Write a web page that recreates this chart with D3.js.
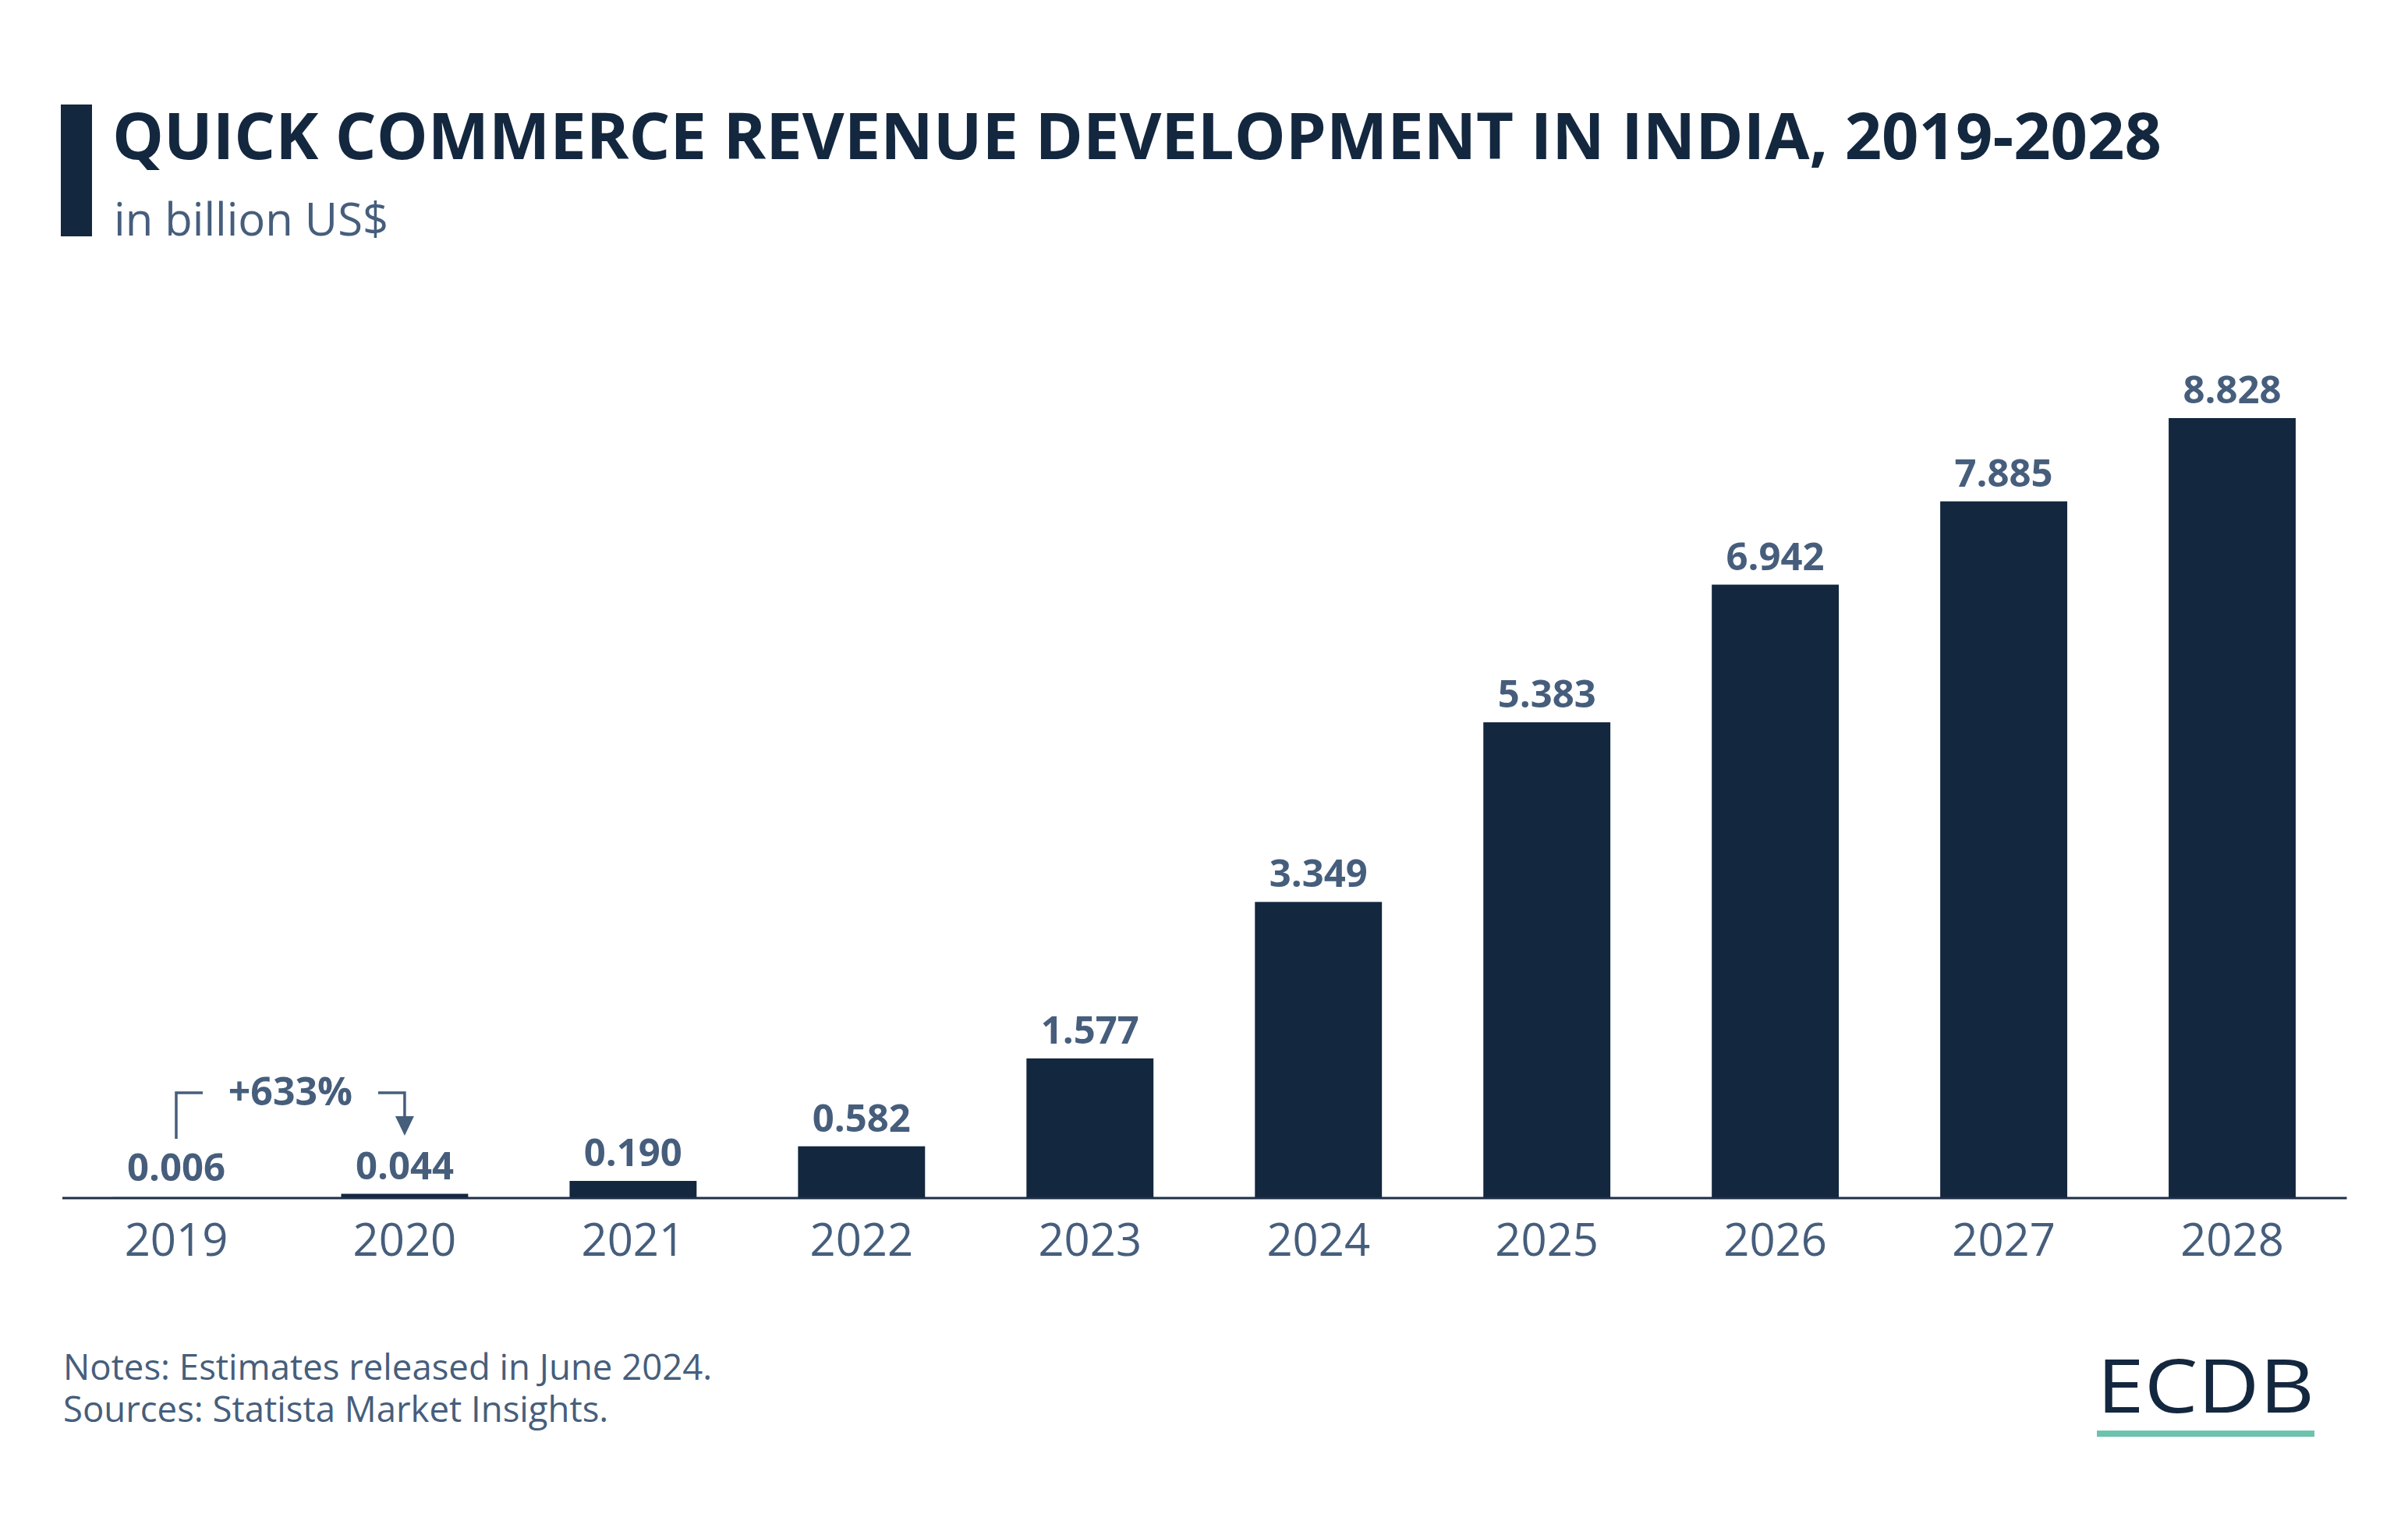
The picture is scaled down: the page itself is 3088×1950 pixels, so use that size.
<!DOCTYPE html>
<html>
<head>
<meta charset="utf-8">
<script src="https://cdn.jsdelivr.net/npm/d3@7"></script>
<style>
  html, body { margin: 0; padding: 0; background: #ffffff; }
  svg { display: block; }
  text { font-family: "Open Sans", "Noto Sans", sans-serif; }
</style>
</head>
<body>
<svg id="chart" width="3088" height="1950"></svg>
<script>
// ---- data ----
const years = ["2019", "2020", "2021", "2022", "2023", "2024", "2025", "2026", "2027", "2028"];
const revenue = [0.006, 0.044, 0.190, 0.582, 1.577, 3.349, 5.383, 6.942, 7.885, 8.828];
const valueLabels = ["0.006", "0.044", "0.190", "0.582", "1.577", "3.349", "5.383", "6.942", "7.885", "8.828"];
const annotation = { from: "2019", to: "2020", label: "+633%" };
const titleText = "QUICK COMMERCE REVENUE DEVELOPMENT IN INDIA, 2019-2028";
const subtitleText = "in billion US$";
const notes = ["Notes: Estimates released in June 2024.", "Sources: Statista Market Insights."];

// ---- styles ----
const navy = "#13273f";
const slate = "#465e7c";

const svg = d3.select("#chart");
const baseY = 1535.5;

const x = d3.scaleBand()
  .domain(years)
  .range([79.5, 3009])
  .paddingInner(0.444)
  .paddingOuter(0.222);

const y = d3.scaleLinear()
  .domain([0, d3.max(revenue)])
  .range([baseY, 536]);

const data = years.map((yr, i) => ({ year: yr, value: revenue[i], label: valueLabels[i] }));

// title block
svg.append("rect").attr("x", 78).attr("y", 134).attr("width", 40).attr("height", 169).attr("fill", navy);
svg.append("text")
  .attr("x", 144).attr("y", 204)
  .attr("font-size", 83).attr("font-weight", 700)
  .attr("fill", navy)
  .text(titleText);
svg.append("text")
  .attr("x", 146).attr("y", 302)
  .attr("font-size", 58).attr("font-weight", 400)
  .attr("fill", slate)
  .text(subtitleText);

// bars
svg.append("g").selectAll("rect")
  .data(data).join("rect")
  .attr("x", d => x(d.year))
  .attr("width", x.bandwidth())
  .attr("y", d => y(d.value))
  .attr("height", d => baseY - y(d.value))
  .attr("fill", navy);

// value labels
svg.append("g").selectAll("text")
  .data(data).join("text")
  .attr("x", d => x(d.year) + x.bandwidth() / 2)
  .attr("y", d => Math.min(y(d.value), baseY - 3) - 19)
  .attr("text-anchor", "middle")
  .attr("font-size", 49).attr("font-weight", 700)
  .attr("fill", slate)
  .text(d => d.label);

// axis
const axis = svg.append("g")
  .attr("transform", `translate(0,${baseY})`)
  .call(d3.axisBottom(x).tickSize(0).tickSizeOuter(0));
axis.select(".domain").attr("stroke", "#1e2f46").attr("stroke-width", 3);
axis.selectAll(".tick text")
  .attr("y", 74.5).attr("dy", null)
  .attr("font-size", 58).attr("font-weight", 400)
  .attr("font-family", "'Open Sans', sans-serif")
  .attr("fill", slate);

// annotation
const cx0 = x(annotation.from) + x.bandwidth() / 2;
const cx1 = x(annotation.to) + x.bandwidth() / 2;
const topY = 1401;
const ann = svg.append("g").attr("stroke", slate).attr("stroke-width", 3.5).attr("fill", "none");
ann.append("path").attr("d", `M${cx0},1460 V${topY} H${cx0 + 34}`);
ann.append("path").attr("d", `M${cx1 - 34},${topY} H${cx1} V1433`);
svg.append("path")
  .attr("d", `M${cx1 - 12},1431 L${cx1 + 12},1431 L${cx1},1456 Z`)
  .attr("fill", slate);
svg.append("text")
  .attr("x", (cx0 + cx1) / 2).attr("y", 1417)
  .attr("text-anchor", "middle")
  .attr("font-size", 50).attr("font-weight", 700)
  .attr("fill", slate)
  .text(annotation.label);

// footer notes
svg.append("g").selectAll("text")
  .data(notes).join("text")
  .attr("x", 81)
  .attr("y", (d, i) => 1769 + i * 54)
  .attr("font-size", 45.5).attr("font-weight", 400)
  .attr("fill", slate)
  .text(d => d);

// logo
svg.append("text")
  .attr("x", 2689).attr("y", 1811)
  .attr("font-family", "Lato, 'Open Sans', sans-serif")
  .attr("font-size", 96).attr("font-weight", 500)
  .attr("textLength", 279).attr("lengthAdjust", "spacingAndGlyphs")
  .attr("fill", navy)
  .text("ECDB");
svg.append("rect").attr("x", 2689).attr("y", 1834).attr("width", 279).attr("height", 8).attr("fill", "#6cc3ad");
</script>
</body>
</html>
